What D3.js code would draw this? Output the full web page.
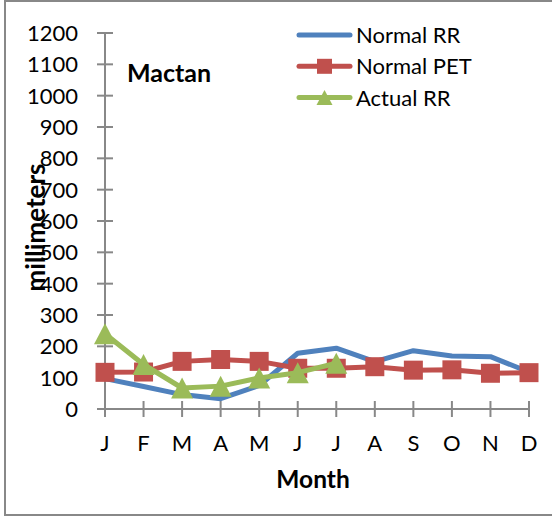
<!DOCTYPE html>
<html>
<head>
<meta charset="utf-8">
<script src="https://cdn.jsdelivr.net/npm/d3@7"></script>
<style>
  html, body { margin: 0; padding: 0; background: #fff; }
  svg { display: block; }
  text { font-family: Lato, "Open Sans", sans-serif; fill: #000; }
</style>
</head>
<body>
<svg id="chart" width="552" height="517"></svg>
<script>
// Monthly water balance for Mactan (mm)
const months = ["J", "F", "M", "A", "M", "J", "J", "A", "S", "O", "N", "D"];
const normalRR = [97, 72, 46, 33, 75, 178, 194, 151, 186, 169, 167, 118];
const normalPET = [117, 118, 152, 158, 152, 130, 130, 135, 124, 125, 114, 116];
const actualRR = [240, 142, 67, 73, 99, 116, 146];
const yTicks = [0, 100, 200, 300, 400, 500, 600, 700, 800, 900, 1000, 1100, 1200];
const seriesNames = ["Normal RR", "Normal PET", "Actual RR"];

const colors = { rr: "#4F81BD", pet: "#C0504D", act: "#9BBB59" };
const axisColor = "#888888";

const svg = d3.select("#chart");

// outer frame
svg.append("rect")
  .attr("x", 5).attr("y", 1)
  .attr("width", 600).attr("height", 514)
  .attr("fill", "none")
  .attr("stroke", axisColor)
  .attr("stroke-width", 2);

const x = d3.scalePoint().domain(d3.range(months.length)).range([105, 529]);
const y = d3.scaleLinear().domain([0, 1200]).range([409, 33]);

// triangle marker centred on its bounding box
const triPath = (w, h) => `M0,${-h / 2}L${w / 2},${h / 2}L${-w / 2},${h / 2}Z`;
const sqPath = s => `M${-s / 2},${-s / 2}h${s}v${s}h${-s}Z`;

// y axis
const yAxis = svg.append("g");
yAxis.append("line")
  .attr("x1", 105).attr("x2", 105)
  .attr("y1", y(1200)).attr("y2", y(0))
  .attr("stroke", axisColor).attr("stroke-width", 2);
yAxis.selectAll("line.tick").data(yTicks).join("line")
  .attr("class", "tick")
  .attr("x1", 97).attr("x2", 113)
  .attr("y1", d => y(d)).attr("y2", d => y(d))
  .attr("stroke", axisColor).attr("stroke-width", 2);
yAxis.selectAll("text").data(yTicks).join("text")
  .attr("x", 78).attr("y", d => y(d))
  .attr("dy", "0.36em")
  .attr("text-anchor", "end")
  .attr("font-size", 22)
  .text(d => d);

// x axis
const xAxis = svg.append("g");
xAxis.append("line")
  .attr("x1", 97).attr("x2", x(11))
  .attr("y1", y(0)).attr("y2", y(0))
  .attr("stroke", axisColor).attr("stroke-width", 2);
xAxis.selectAll("line.tick").data(months).join("line")
  .attr("class", "tick")
  .attr("x1", (d, i) => x(i)).attr("x2", (d, i) => x(i))
  .attr("y1", y(0) - 8).attr("y2", y(0) + 8)
  .attr("stroke", axisColor).attr("stroke-width", 2);
xAxis.selectAll("text").data(months).join("text")
  .attr("x", (d, i) => x(i)).attr("y", 451)
  .attr("text-anchor", "middle")
  .attr("font-size", 22)
  .text(d => d);

// axis titles
svg.append("text")
  .attr("x", 313).attr("y", 488)
  .attr("text-anchor", "middle")
  .attr("font-size", 24.5).attr("font-weight", "bold")
  .text("Month");
svg.append("text")
  .attr("transform", "translate(45,227.5) rotate(-90)")
  .attr("text-anchor", "middle")
  .attr("font-size", 26).attr("font-weight", "bold")
  .text("millimeters");

// station name
svg.append("text")
  .attr("x", 127).attr("y", 82)
  .attr("font-size", 25).attr("font-weight", "bold")
  .text("Mactan");

const line = d3.line().x((d, i) => x(i)).y(d => y(d));

// Normal RR
svg.append("path").datum(normalRR)
  .attr("d", line).attr("fill", "none")
  .attr("stroke", colors.rr).attr("stroke-width", 5)
  .attr("stroke-linejoin", "round").attr("stroke-linecap", "round");

// Normal PET
svg.append("path").datum(normalPET)
  .attr("d", line).attr("fill", "none")
  .attr("stroke", colors.pet).attr("stroke-width", 5)
  .attr("stroke-linejoin", "round").attr("stroke-linecap", "round");
svg.append("g").selectAll("path").data(normalPET).join("path")
  .attr("transform", (d, i) => `translate(${x(i)},${y(d)})`)
  .attr("d", sqPath(19))
  .attr("fill", colors.pet);

// Actual RR
svg.append("path").datum(actualRR)
  .attr("d", line).attr("fill", "none")
  .attr("stroke", colors.act).attr("stroke-width", 5)
  .attr("stroke-linejoin", "round").attr("stroke-linecap", "round");
svg.append("g").selectAll("path").data(actualRR).join("path")
  .attr("transform", (d, i) => `translate(${x(i)},${y(d)})`)
  .attr("d", triPath(22, 21))
  .attr("fill", colors.act);

// legend
const legendRows = [
  { name: seriesNames[0], color: colors.rr, mark: null },
  { name: seriesNames[1], color: colors.pet, mark: sqPath(15) },
  { name: seriesNames[2], color: colors.act, mark: triPath(16, 15) }
];
const lg = svg.append("g").selectAll("g").data(legendRows).join("g")
  .attr("transform", (d, i) => `translate(0,${35 + i * 31.3})`);
lg.append("line")
  .attr("x1", 299).attr("x2", 350).attr("y1", 0).attr("y2", 0)
  .attr("stroke", d => d.color).attr("stroke-width", 5)
  .attr("stroke-linecap", "round");
lg.filter(d => d.mark).append("path")
  .attr("transform", "translate(324.5,0)")
  .attr("d", d => d.mark)
  .attr("fill", d => d.color);
lg.append("text")
  .attr("x", 356).attr("y", 0).attr("dy", "0.36em")
  .attr("font-size", 22)
  .text(d => d.name);
</script>
</body>
</html>
